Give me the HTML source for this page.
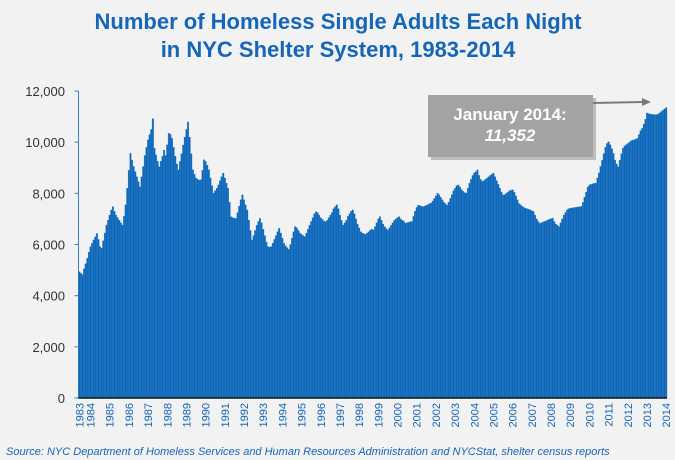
<!DOCTYPE html>
<html><head><meta charset="utf-8">
<style>
html,body{margin:0;padding:0;background:#f2f2f2;}
body{width:675px;height:460px;overflow:hidden;font-family:"Liberation Sans",sans-serif;}
</style></head>
<body>
<svg id="chart" width="675" height="460" xmlns="http://www.w3.org/2000/svg" style="display:block">
<rect width="675" height="460" fill="#f2f2f2"/>
<text x="338" y="29" text-anchor="middle" font-family="Liberation Sans, sans-serif" font-weight="bold" font-size="22" fill="#1565b8">Number of Homeless Single Adults Each Night</text>
<text x="338" y="57" text-anchor="middle" font-family="Liberation Sans, sans-serif" font-weight="bold" font-size="22" fill="#1565b8">in NYC Shelter System, 1983-2014</text>
<g id="yaxis"></g>
<g id="bars"></g>
<g id="xaxis"></g>
<g>
<rect x="431" y="98" width="165" height="62" fill="#8a8a8a" opacity="0.5"/>
<rect x="428" y="95" width="165" height="62" fill="#a3a3a3"/>
<text x="510" y="120" text-anchor="middle" font-weight="bold" font-size="17" fill="#fff">January 2014:</text>
<text x="510" y="141" text-anchor="middle" font-weight="bold" font-style="italic" font-size="17" fill="#fff">11,352</text>
<line x1="593" y1="103" x2="643" y2="102" stroke="#7a7a7a" stroke-width="2"/>
<polygon points="651,102 642,98 642,106" fill="#7a7a7a"/>
</g>
<text x="6" y="455" font-style="italic" font-size="11" fill="#1565b8">Source:  NYC Department of Homeless Services and Human Resources Administration and NYCStat, shelter census reports</text>
</svg>
<script>
const yTicks=[0,2000,4000,6000,8000,10000,12000];
const yTickLabels=["0","2,000","4,000","6,000","8,000","10,000","12,000"];
const xYearLabels=["1983","1984","1985","1986","1987","1988","1989","1990","1991","1992","1993","1994","1995","1996","1997","1998","1999","2000","2001","2002","2003","2004","2005","2006","2007","2008","2009","2010","2011","2012","2013","2014"];
const xYearIndex=[0,7,19,31,43,55,67,79,91,103,115,127,139,151,163,175,187,199,211,223,235,247,259,271,283,295,307,319,331,343,355,367];
const monthlyCounts=[
4940,4880,4820,5050,5250,5460,5700,5920,6050,6180,6300,6430,
6200,5920,5850,6150,6450,6760,6950,7150,7350,7480,7300,7150,
7050,6950,6850,6760,7100,7550,8200,8900,9560,9300,9050,8850,
8650,8450,8250,8650,9050,9480,9800,10090,10300,10500,10920,9760,
9500,9250,9040,9250,9450,9690,9480,9900,10350,10300,10150,9800,
9450,9150,8920,9250,9550,9890,10200,10500,10790,10200,9550,8920,
8750,8600,8550,8520,8530,8900,9310,9250,9100,8920,8600,8300,
8010,8100,8200,8330,8500,8650,8790,8600,8400,8200,7650,7090,
7050,7030,7020,7250,7500,7750,7940,7750,7550,7350,6950,6550,
6180,6350,6550,6750,6900,7020,6850,6600,6350,6100,5920,5900,
5920,6050,6200,6350,6500,6630,6450,6250,6050,5950,5880,5810,
6000,6250,6500,6700,6650,6550,6450,6400,6350,6310,6450,6600,
6750,6900,7050,7200,7280,7250,7150,7050,6980,6920,6890,6950,
7050,7150,7250,7400,7480,7550,7400,7150,6950,6760,6850,6950,
7100,7200,7300,7350,7200,7000,6800,6650,6500,6450,6420,6400,
6450,6500,6570,6600,6570,6700,6850,7000,7090,6950,6800,6700,
6620,6570,6650,6750,6850,6950,7000,7050,7090,7000,6950,6900,
6830,6850,6870,6890,6900,7100,7300,7450,7540,7520,7500,7480,
7500,7530,7560,7600,7620,7700,7800,7900,8010,7950,7850,7750,
7650,7600,7540,7650,7800,7950,8100,8200,8300,8330,8250,8150,
8080,8030,8010,8200,8400,8550,8700,8800,8850,8920,8700,8550,
8470,8500,8550,8600,8650,8700,8750,8790,8650,8500,8350,8200,
8050,7940,7950,8000,8050,8100,8120,8140,8050,7900,7750,7600,
7550,7490,7450,7420,7400,7380,7350,7320,7290,7150,7000,6900,
6830,6850,6880,6900,6930,6960,6990,7010,7030,6900,6800,6750,
6700,6850,7000,7150,7250,7350,7400,7420,7430,7440,7450,7460,
7470,7480,7490,7650,7850,8050,8250,8330,8350,8370,8390,8400,
8600,8800,9050,9300,9550,9800,9950,10020,9900,9750,9560,9300,
9150,9040,9300,9550,9760,9850,9900,9950,10000,10050,10080,10100,
10120,10150,10300,10450,10540,10700,10900,11140,11120,11100,11090,11080,
11080,11080,11100,11150,11200,11250,11300,11352];

const NS="http://www.w3.org/2000/svg";
const plotL=78.5,plotR=667,plotT=91,plotB=398,yMax=12000;
const step=(plotR-plotL)/monthlyCounts.length;
function yScale(v){return plotB-(v/yMax)*(plotB-plotT);}
function xScale(i){return plotL+i*step;}
function mk(tag,attrs){const e=document.createElementNS(NS,tag);for(const k in attrs)e.setAttribute(k,attrs[k]);return e;}

const ya=document.getElementById('yaxis');
const axisLine=mk('line',{x1:plotL,y1:plotT,x2:plotL,y2:plotB,stroke:'#3a7fc8','stroke-width':1});


ya.appendChild(axisLine);
yTicks.forEach((t,k)=>{
  const y=yScale(t);
  const tk=mk('line',{x1:plotL-4,y1:y,x2:plotL,y2:y,stroke:'#3a7fc8','stroke-width':1});
  
  
  ya.appendChild(tk);
  const tx=mk('text',{x:65,y:y+5,'text-anchor':'end','font-size':13,fill:'#333'});
  
  
  tx.textContent=yTickLabels[k];
  ya.appendChild(tx);
});

const bg=document.getElementById('bars');
monthlyCounts.forEach((v,i)=>{
  const y=yScale(v);
  const r=mk('rect',{x:xScale(i),y:y,width:step,height:plotB-y,fill:'#0d66b6',stroke:'#2d80cd','stroke-width':0.3});
  
  
  bg.appendChild(r);
});

const xa=document.getElementById('xaxis');
const base=mk('line',{x1:plotL,y1:plotB,x2:plotR,y2:plotB,stroke:'#111','stroke-width':1.5});


xa.appendChild(base);
xYearLabels.forEach((lab,k)=>{
  const cx=xScale(xYearIndex[k])+step/2+4;
  const t=mk('text',{x:0,y:0,'text-anchor':'end','font-size':11,fill:'#1565b8',transform:'translate('+cx+',403) rotate(-90)'});
  
  
  t.textContent=lab;
  xa.appendChild(t);
});
</script>
</body></html>
